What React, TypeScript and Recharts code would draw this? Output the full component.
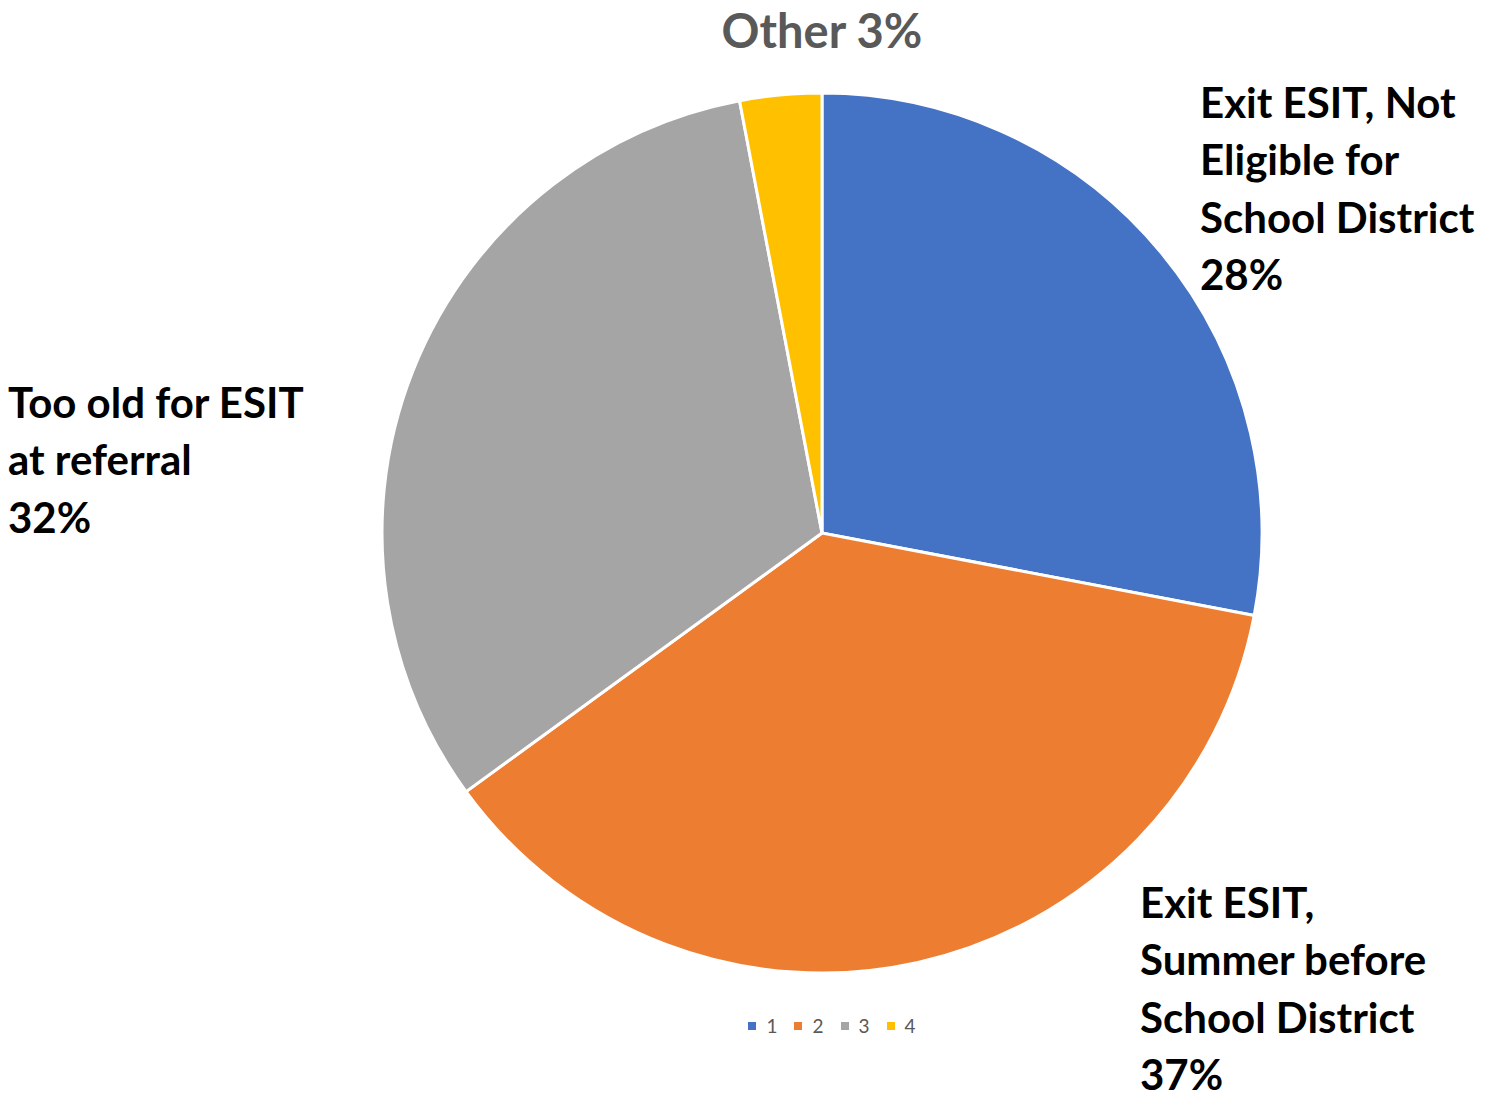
import React from 'react';
import { PieChart, Pie, Cell, Legend } from 'recharts';

// legend keys, label text and slice values, in drawing order (clockwise from 12 o'clock)
const keys = ['1', '2', '3', '4'];
const labelLines = [
  ['Exit ESIT, Not', 'Eligible for', 'School District'],
  ['Exit ESIT,', 'Summer before', 'School District'],
  ['Too old for ESIT', 'at referral'],
  ['Other'],
];
const shares = [28, 37, 32, 3];
const colors = ['#4472C4', '#ED7D31', '#A5A5A5', '#FFC000'];

// label anchors, relative to the pie centre
const labelOffsets = [
  { dx: 378, dy: -415, anchor: 'start', inline: false, fill: '#000000', size: 42 },
  { dx: 318, dy: 385, anchor: 'start', inline: false, fill: '#000000', size: 42 },
  { dx: -814, dy: -115, anchor: 'start', inline: false, fill: '#000000', size: 42 },
  { dx: 0, dy: -485, anchor: 'middle', inline: true, fill: '#595959', size: 47 },
];

const data = keys.map((k, i) => ({ name: k, value: shares[i], lines: labelLines[i] }));

const FONT = 'Lato, "Open Sans", sans-serif';
const LINE_H = 57.3;

const renderLabel = (props: any) => {
  const { cx, cy, index } = props;
  const d = data[index];
  const o = labelOffsets[index];
  const pct = `${d.value}%`;
  const lines = o.inline ? [`${d.lines.join(' ')} ${pct}`] : [...d.lines, pct];
  return (
    <text
      x={cx + o.dx}
      y={cy + o.dy}
      textAnchor={o.anchor as any}
      fill={o.fill}
      fontFamily={FONT}
      fontWeight={700}
      fontSize={o.size}
    >
      {lines.map((t, j) => (
        <tspan key={j} x={cx + o.dx} dy={j === 0 ? 0 : LINE_H}>
          {t}
        </tspan>
      ))}
    </text>
  );
};

const renderLegend = (props: any) => {
  const { payload } = props;
  return (
    <div style={{ display: 'flex', justifyContent: 'center', fontFamily: FONT, fontSize: 19, color: '#595959' }}>
      {(payload || []).map((p: any, i: number) => (
        <div key={i} style={{ display: 'flex', alignItems: 'center', marginRight: i < payload.length - 1 ? 17 : 0 }}>
          <span style={{ width: 8, height: 8, background: p.color, display: 'inline-block', marginRight: 10 }} />
          <span>{p.value}</span>
        </div>
      ))}
    </div>
  );
};

export default function App() {
  return (
    <div style={{ position: 'absolute', left: 0, top: 0, width: 1491, height: 1098, background: '#fff' }}>
      <PieChart width={1491} height={1098} margin={{ top: 0, right: 0, bottom: 0, left: 0 }}>
        <Pie
          data={data}
          dataKey="value"
          nameKey="name"
          cx={822}
          cy={533}
          outerRadius={440}
          startAngle={90}
          endAngle={-270}
          stroke="#ffffff"
          strokeWidth={3}
          label={renderLabel}
          labelLine={false}
          isAnimationActive={false}
        >
          {data.map((d, i) => (
            <Cell key={d.name} fill={colors[i]} />
          ))}
        </Pie>
        <Legend
          verticalAlign="bottom"
          align="left"
          content={renderLegend}
          wrapperStyle={{ top: 1014, bottom: 'auto', left: 747, width: 170, height: 24 }}
        />
      </PieChart>
    </div>
  );
}
